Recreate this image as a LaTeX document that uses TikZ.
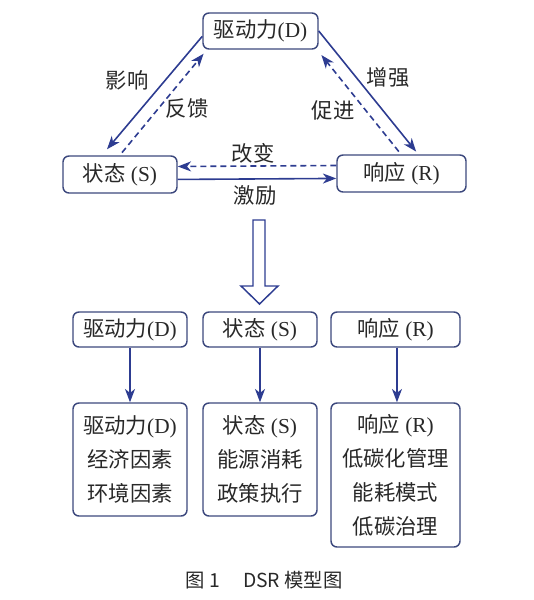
\documentclass[tikz,border=0pt]{standalone}
\usepackage{fontspec}
\setmainfont{Liberation Serif}
\newfontfamily\cjk{Noto Sans CJK SC}
\newcommand{\zh}[1]{{\cjk #1}}
\usetikzlibrary{arrows.meta}
\definecolor{dsrblue}{RGB}{45,60,145}
\definecolor{dsrframe}{RGB}{60,72,125}
\definecolor{dsrtext}{RGB}{40,40,40}
\tikzset{
  dsrbox/.style={draw=dsrframe, line width=1.1pt, rounded corners=4.5pt, align=center,
    inner sep=0pt, text=dsrtext, font=\fontsize{16}{25.5}\selectfont},
  arr/.style={-{Stealth[length=10pt,width=7.5pt,inset=3pt]}, draw=dsrblue, line width=1.2pt},
  dasharr/.style={arr, dash pattern=on 4.5pt off 3pt},
  lbl/.style={text=dsrtext, font=\fontsize{16}{18}\selectfont\cjk}
}
\begin{document}
\begin{tikzpicture}[x=0.75pt,y=-0.75pt]
  \useasboundingbox (0,0) rectangle (534,600);
  % DSR triangle
  \node[dsrbox, minimum width=86.25pt, minimum height=27pt] (D) at (260.5,31) {\zh{驱动力}(D)};
  \node[dsrbox, minimum width=85.5pt, minimum height=27.75pt] (S) at (120,174.5) {\zh{状态} (S)};
  \node[dsrbox, minimum width=96.75pt, minimum height=27.75pt] (R) at (401.5,173.5) {\zh{响应} (R)};
  \draw[arr] ([yshift=-4pt]D.west) -- ([xshift=-9.75pt,yshift=4.5pt]S.north);
  \draw[dasharr] ([xshift=1.5pt,yshift=2pt]S.north) -- ([xshift=1pt,yshift=-3pt]D.south west);
  \draw[arr] (D.east) -- ([xshift=11pt,yshift=2pt]R.north);
  \draw[dasharr] ([xshift=-2pt,yshift=2pt]R.north) -- ([xshift=2pt,yshift=-4pt]D.south east);
  \draw[dasharr] ([yshift=6pt]R.west) -- ([yshift=6pt]S.east);
  \draw[arr] ([yshift=-3.7pt]S.east) -- ([yshift=-3.7pt]R.west);
  \node[lbl] (l1) at (127,80) {影响};
  \node[lbl] (l2) at (187,108) {反馈};
  \node[lbl] (l3) at (388,77) {增强};
  \node[lbl] (l4) at (333,110) {促进};
  \node[lbl] (l5) at (253,153) {改变};
  \node[lbl] (l6) at (255,195) {激励};
  % hollow arrow
  \draw[draw=dsrblue, line width=1.1pt, fill=white]
    (253,220) -- (265,220) -- (265,286) -- (278,286) -- (259.5,304) -- (241,286) -- (253,286) -- cycle;
  % middle row
  \node[dsrbox, minimum width=85.5pt, minimum height=26.25pt] (D2) at (130,329.5) {\zh{驱动力}(D)};
  \node[dsrbox, minimum width=85.5pt, minimum height=26.25pt] (S2) at (260,329.5) {\zh{状态} (S)};
  \node[dsrbox, minimum width=96.75pt, minimum height=26.25pt] (R2) at (395.5,329.5) {\zh{响应} (R)};
  % bottom row
  \node[dsrbox, minimum width=85.5pt, minimum height=84.75pt] (D3) at (130,459.5)
    {\zh{驱动力}(D)\\ \zh{经济因素}\\ \zh{环境因素}};
  \node[dsrbox, minimum width=85.5pt, minimum height=84.75pt] (S3) at (260,459.5)
    {\zh{状态} (S)\\ \zh{能源消耗}\\ \zh{政策执行}};
  \node[dsrbox, minimum width=96.75pt, minimum height=108pt] (R3) at (395.5,475)
    {\zh{响应} (R)\\ \zh{低碳化管理}\\ \zh{能耗模式}\\ \zh{低碳治理}};
  \draw[arr] (D2) -- (D3);
  \draw[arr] (S2) -- (S3);
  \draw[arr] ([xshift=1.1pt]R2.south) -- ([xshift=1.1pt]R3.north);
  % caption
  \node[text=dsrtext, font=\fontsize{14.5}{17}\selectfont\cjk] (cap) at (264,580) {图 1\hspace{1.2em}DSR 模型图};
\end{tikzpicture}
\end{document}
